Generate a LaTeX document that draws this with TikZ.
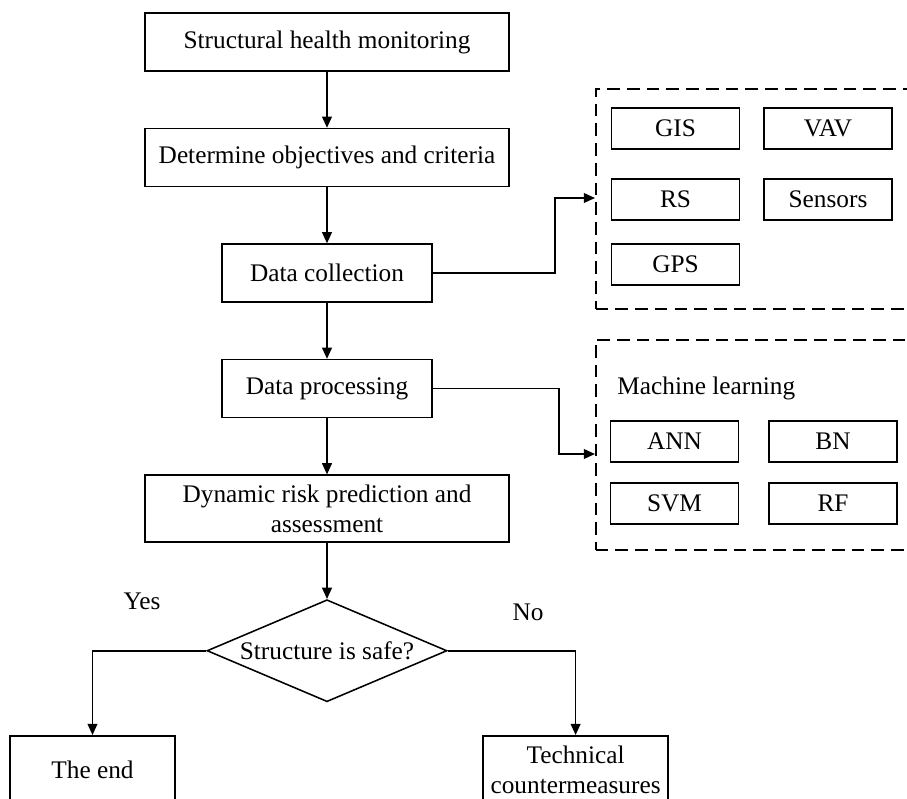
\documentclass[tikz,border=0pt]{standalone}
\usepackage{fontspec}
\setmainfont{Liberation Serif}
\usepackage{tikz}
\usetikzlibrary{positioning, arrows.meta, shapes.geometric}

\begin{document}
\begin{tikzpicture}[
    node distance=1.4cm,
    line width=1.1pt,
    >={Triangle[length=8pt,width=7pt]},
    font=\fontsize{18}{21}\selectfont,
    process/.style={rectangle, draw, minimum width=9.1cm, minimum height=1.45cm, align=center, inner sep=2pt},
    datastep/.style={process, minimum width=5.25cm},
    decision/.style={diamond, draw, aspect=2.35, minimum width=6cm, minimum height=2.55cm, inner sep=0pt},
    tool/.style={rectangle, draw, minimum width=3.2cm, minimum height=1.025cm, inner sep=2pt},
    zone/.style={rectangle, draw, dash pattern=on 9pt off 5pt, anchor=north west, minimum width=8.625cm},
    outcome/.style={rectangle, draw, align=center, minimum height=1.7cm, anchor=north}
]
\clip (0,0) rectangle (22.675,-19.975);

% main chain
\node[process] (shm) at (8.175,-1.05) {Structural health monitoring};
\node[process, below=of shm] (goals) {Determine objectives and criteria};
\node[datastep, below=of goals] (collect) {Data collection};
\node[datastep, below=of collect] (proc) {Data processing};
\node[process, minimum height=1.675cm, below=of proc] (risk) {Dynamic risk prediction and\\assessment};
\node[decision, below=of risk] (safe) {Structure is safe?};

\node[outcome, minimum width=4.125cm] (end) at (2.3125,-18.375) {The end};
\node[outcome, minimum width=4.625cm] (tech) at (14.39,-18.375) {Technical\\countermeasures};
\node (yes) at (3.55,-15.025) {Yes};
\node (no) at (13.2,-15.3) {No};

% data sources
\node[zone, minimum height=5.5cm] (sources) at (14.875,-2.2) {};
\node[tool] (gis) at (16.8875,-3.2125) {GIS};
\node[tool] (vav) at (20.7,-3.2125) {VAV};
\node[tool] (rs) at (16.8875,-4.9875) {RS};
\node[tool] (sens) at (20.7,-4.9875) {Sensors};
\node[tool] (gps) at (16.8875,-6.6125) {GPS};

% machine learning
\node[zone, minimum height=5.25cm] (methods) at (14.875,-8.475) {};
\node[anchor=west] (ml) at (15.3,-9.72) {Machine learning};
\node[tool] (ann) at (16.8625,-11.0375) {ANN};
\node[tool] (bn) at (20.825,-11.0375) {BN};
\node[tool] (svm) at (16.8625,-12.5875) {SVM};
\node[tool] (rf) at (20.825,-12.5875) {RF};

\coordinate (bendA) at (13.875,-4.95);
\coordinate (bendB) at (13.975,-11.35);

\draw[->] (shm) -- (goals);
\draw[->] (goals) -- (collect);
\draw[->] (collect) -- (proc);
\draw[->] (proc) -- (risk);
\draw[->] (risk) -- (safe);
\draw[->] (collect.east) -| (bendA) -- (bendA -| sources.west);
\draw[->] (proc.east) -| (bendB) -- (bendB -| methods.west);
\draw[->] (safe.west) -| (end.north);
\draw[->] (safe.east) -| (tech.north);
\end{tikzpicture}
\end{document}
